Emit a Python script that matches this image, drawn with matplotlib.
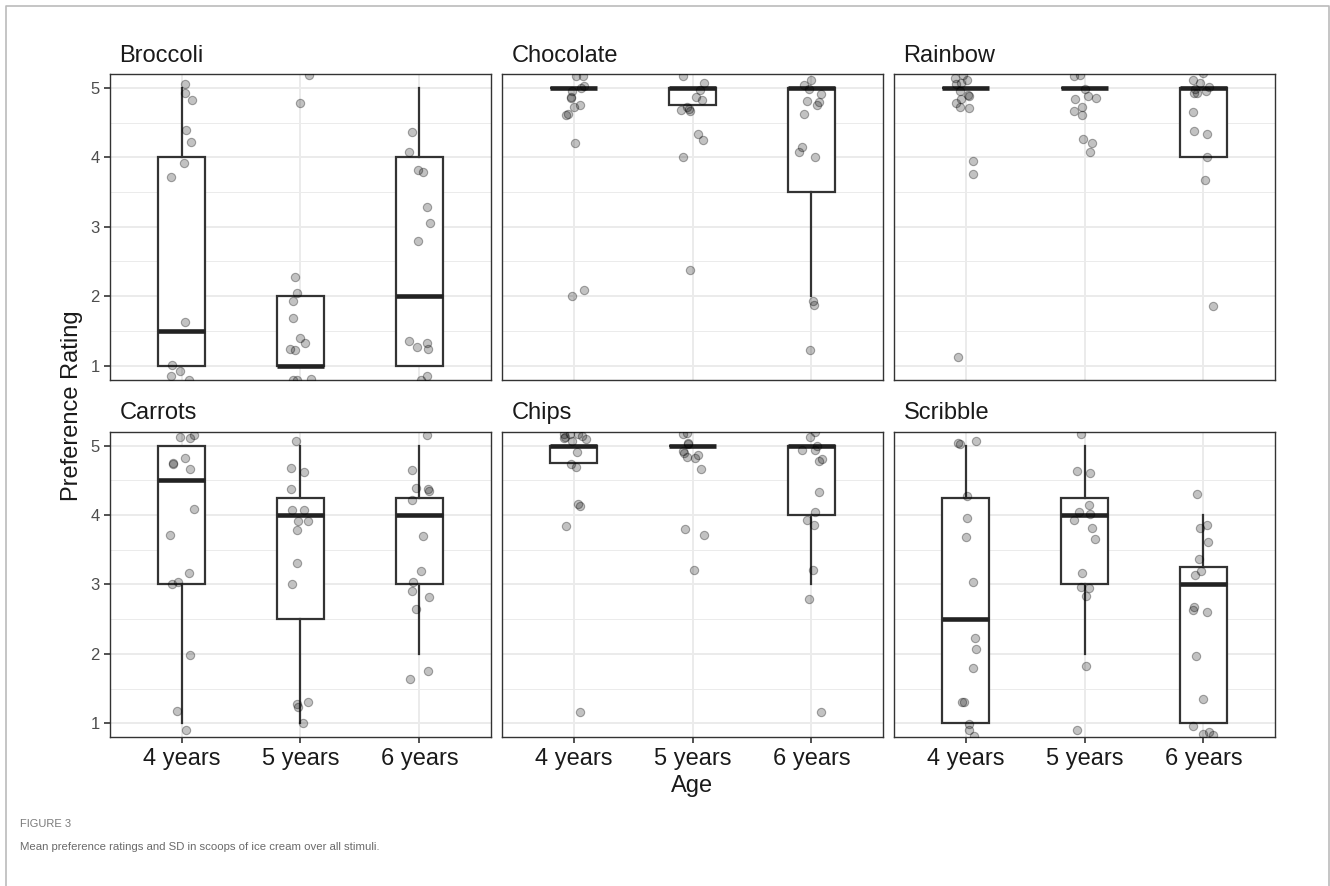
import matplotlib.pyplot as plt
from matplotlib.lines import Line2D

plt.rcParams["font.family"] = ["Liberation Sans", "DejaVu Sans"]

ages = ["4 years", "5 years", "6 years"]
foods = ["Broccoli", "Chocolate", "Rainbow", "Carrots", "Chips", "Scribble"]

# box summary per age: (whisker low, q1, median, q3, whisker high)
broccoli_box = [(1, 1, 1.5, 4, 5), (1, 1, 1, 2, 2), (1, 1, 2, 4, 5)]
chocolate_box = [(5, 5, 5, 5, 5), (4.75, 4.75, 5, 5, 5), (2, 3.5, 5, 5, 5)]
rainbow_box = [(5, 5, 5, 5, 5), (5, 5, 5, 5, 5), (4, 4, 5, 5, 5)]
carrots_box = [(1, 3, 4.5, 5, 5), (1, 2.5, 4, 4.25, 5), (2, 3, 4, 4.25, 5)]
chips_box = [(4.75, 4.75, 5, 5, 5), (5, 5, 5, 5, 5), (3, 4, 5, 5, 5)]
scribble_box = [(1, 1, 2.5, 4.25, 5), (2, 3, 4, 4.25, 5), (1, 1, 3, 3.25, 4)]

# jittered ratings as drawn (y) and their horizontal jitter (dx), per age
broccoli_y = [
    [5.05, 4.92, 4.82, 4.39, 4.22, 3.92, 3.72, 1.63, 1.01, 0.92, 0.85, 0.79],
    [5.18, 4.78, 2.27, 2.05, 1.93, 1.68, 1.40, 1.33, 1.24, 1.22, 0.80, 0.80, 0.81],
    [4.36, 4.07, 3.82, 3.79, 3.29, 3.06, 2.80, 1.36, 1.27, 1.33, 1.24, 0.85, 0.80],
]
broccoli_dx = [
    [0.03, 0.03, 0.09, 0.04, 0.08, 0.02, -0.09, 0.03, -0.08, -0.01, -0.09, 0.06],
    [0.07, 0.0, -0.05, -0.03, -0.06, -0.06, 0.0, 0.04, -0.09, -0.05, -0.06, -0.03, 0.09],
    [-0.06, -0.09, -0.01, 0.03, 0.06, 0.09, -0.01, -0.09, -0.02, 0.06, 0.07, 0.06, 0.01],
]
chocolate_y = [
    [5.17, 5.17, 5.02, 5.0, 4.96, 4.87, 4.85, 4.75, 4.72, 4.63, 4.61, 4.20, 2.09, 2.0],
    [5.17, 5.07, 4.97, 4.87, 4.82, 4.73, 4.68, 4.70, 4.66, 4.34, 4.25, 4.01, 2.38],
    [5.12, 5.04, 4.99, 4.91, 4.80, 4.76, 4.81, 4.62, 4.15, 4.07, 4.0, 1.93, 1.87, 1.23],
]
chocolate_dx = [
    [0.02, 0.08, 0.09, 0.06, -0.01, -0.02, -0.02, 0.05, 0.0, -0.05, -0.06, 0.01, 0.09, -0.01],
    [-0.08, 0.10, 0.06, 0.03, 0.08, -0.05, -0.10, -0.03, -0.02, 0.05, 0.09, -0.08, -0.02],
    [0.0, -0.06, -0.02, 0.08, 0.06, 0.05, -0.04, -0.06, -0.08, -0.10, 0.03, 0.01, 0.02, -0.01],
]
rainbow_y = [
    [5.18, 5.14, 5.12, 5.07, 5.05, 4.95, 4.90, 4.89, 4.84, 4.78, 4.72, 4.71, 3.95, 3.76, 1.12],
    [5.17, 5.19, 4.99, 4.88, 4.85, 4.84, 4.72, 4.67, 4.61, 4.27, 4.20, 4.08],
    [5.21, 5.12, 5.07, 5.01, 4.99, 4.95, 4.92, 4.93, 4.65, 4.38, 4.34, 4.01, 3.68, 1.86],
]
rainbow_dx = [
    [-0.02, -0.09, 0.01, -0.04, -0.08, -0.05, 0.02, 0.03, -0.04, -0.08, -0.05, 0.03, 0.06, 0.06, -0.06],
    [-0.09, -0.04, 0.0, 0.03, 0.10, -0.08, -0.02, -0.09, -0.02, -0.01, 0.06, 0.05],
    [0.0, -0.09, -0.03, 0.05, -0.07, 0.02, -0.08, -0.05, -0.09, -0.08, 0.03, 0.03, 0.01, 0.08],
]
carrots_y = [
    [5.12, 5.11, 5.15, 4.82, 4.75, 4.73, 4.66, 4.08, 3.71, 3.16, 3.03, 3.0, 1.99, 1.18, 0.90],
    [5.06, 4.68, 4.62, 4.38, 4.07, 4.07, 3.92, 3.91, 3.78, 3.31, 3.01, 1.28, 1.23, 1.31, 1.01],
    [5.15, 4.65, 4.39, 4.37, 4.35, 4.21, 3.70, 3.19, 3.04, 2.90, 2.82, 2.65, 1.76, 1.64],
]
carrots_dx = [
    [-0.01, 0.07, 0.10, 0.03, -0.07, -0.07, 0.07, 0.10, -0.10, 0.06, -0.03, -0.08, 0.07, -0.04, 0.04],
    [-0.04, -0.08, 0.03, -0.08, -0.07, 0.03, -0.02, 0.06, -0.03, -0.03, -0.07, -0.03, -0.02, 0.06, 0.02],
    [0.06, -0.06, -0.03, 0.07, 0.08, -0.06, 0.03, 0.01, -0.05, -0.06, 0.08, -0.03, 0.07, -0.08],
]
chips_y = [
    [5.17, 5.13, 5.11, 5.16, 5.16, 5.14, 5.10, 5.07, 4.91, 4.74, 4.69, 4.16, 4.13, 3.84, 1.16],
    [5.16, 5.18, 5.04, 5.02, 4.92, 4.90, 4.83, 4.82, 4.86, 4.66, 3.80, 3.71, 3.21],
    [5.13, 5.19, 4.99, 4.94, 4.94, 4.81, 4.78, 4.33, 4.05, 3.93, 3.86, 3.21, 2.79, 1.16],
]
chips_dx = [
    [-0.08, -0.07, -0.08, -0.03, 0.04, 0.07, 0.10, -0.01, 0.03, -0.02, 0.02, 0.04, 0.05, -0.06, 0.05],
    [-0.08, -0.05, -0.04, -0.04, -0.08, -0.07, -0.05, 0.02, 0.05, 0.07, -0.06, 0.10, 0.01],
    [-0.01, 0.03, 0.05, 0.03, -0.08, 0.09, 0.06, 0.06, 0.03, -0.04, 0.02, 0.01, -0.02, 0.08],
]
scribble_y = [
    [5.04, 5.03, 5.06, 4.27, 3.96, 3.69, 3.03, 2.23, 2.07, 1.79, 1.31, 1.30, 0.99, 0.90, 0.82],
    [5.16, 4.63, 4.61, 4.15, 4.05, 4.02, 3.93, 3.82, 3.66, 3.17, 2.97, 2.95, 2.84, 1.82, 0.90],
    [4.30, 3.85, 3.82, 3.61, 3.37, 3.20, 3.14, 2.68, 2.63, 2.61, 1.97, 1.35, 0.96, 0.85, 0.87, 0.83],
]
scribble_dx = [
    [-0.06, -0.05, 0.09, 0.01, 0.01, 0.0, 0.06, 0.08, 0.09, 0.06, -0.03, -0.01, 0.03, 0.03, 0.07],
    [-0.03, -0.06, 0.05, 0.04, -0.05, 0.05, -0.09, 0.06, 0.09, -0.02, -0.03, 0.04, 0.01, 0.01, -0.06],
    [-0.05, 0.03, -0.03, 0.04, -0.04, -0.02, -0.07, -0.08, -0.09, 0.03, -0.06, 0.0, -0.09, 0.0, 0.05, 0.08],
]

boxes = [broccoli_box, chocolate_box, rainbow_box, carrots_box, chips_box, scribble_box]
points_y = [broccoli_y, chocolate_y, rainbow_y, carrots_y, chips_y, scribble_y]
points_dx = [broccoli_dx, chocolate_dx, rainbow_dx, carrots_dx, chips_dx, scribble_dx]

W, H = 1330, 886
fig = plt.figure(figsize=(W / 100, H / 100), dpi=100)

col_left = [110.3, 502.3, 894.3]
col_w = 380.4
row_top = [74.0, 431.7]
row_h = 305.5

BOX_COL = "#333333"

for i, food in enumerate(foods):
    r, c = divmod(i, 3)
    ax = fig.add_axes([col_left[c] / W, 1 - (row_top[r] + row_h) / H, col_w / W, row_h / H])

    stats = [
        {"whislo": lo, "q1": q1, "med": med, "q3": q3, "whishi": hi, "fliers": []}
        for lo, q1, med, q3, hi in boxes[i]
    ]
    ax.bxp(stats, positions=[1, 2, 3], widths=0.4, patch_artist=True, showcaps=False,
           showfliers=False,
           boxprops=dict(facecolor="white", edgecolor=BOX_COL, linewidth=1.6),
           whiskerprops=dict(color=BOX_COL, linewidth=1.6),
           medianprops=dict(color="#222222", linewidth=3.3, solid_capstyle="butt"),
           zorder=2)

    for k in range(3):
        xs = [k + 1 + d for d in points_dx[i][k]]
        ax.scatter(xs, points_y[i][k], s=36, facecolor=(0, 0, 0, 0.24),
                   edgecolor=(0, 0, 0, 0.32), linewidth=0.8, zorder=3)

    ax.set_xlim(0.4, 3.6)
    ax.set_ylim(0.8, 5.2)
    ax.set_xticks([1, 2, 3])
    ax.set_yticks([1, 2, 3, 4, 5])
    ax.set_yticks([1.5, 2.5, 3.5, 4.5], minor=True)
    ax.grid(True, which="major", color="#EBEBEB", linewidth=1.4, zorder=0)
    ax.grid(True, which="minor", axis="y", color="#EBEBEB", linewidth=0.7, zorder=0)
    ax.set_axisbelow(True)
    for sp in ax.spines.values():
        sp.set_color("#333333")
        sp.set_linewidth(1.0)

    ax.tick_params(axis="both", which="minor", length=0)
    ax.tick_params(axis="y", which="major", length=4, width=1.2, color="#333333",
                   labelsize=12, labelcolor="#4D4D4D", pad=3.5)
    ax.tick_params(axis="x", which="major", length=4, width=1.2, color="#333333",
                   labelsize=17, labelcolor="#1A1A1A", pad=3.5)
    if r == 1:
        ax.set_xticklabels(ages)
    else:
        ax.tick_params(axis="x", which="major", length=0, labelbottom=False)
    if c != 0:
        ax.tick_params(axis="y", which="major", length=0, labelleft=False)

    ax.text(0.024, 1.04, food, transform=ax.transAxes, fontsize=17,
            ha="left", va="baseline", color="#1A1A1A")

fig.text(72 / W, 1 - 406 / H, "Preference Rating", rotation=90, fontsize=17,
         ha="center", va="center", color="#1A1A1A")
fig.text(692 / W, 1 - 786 / H, "Age", fontsize=17, ha="center", va="center",
         color="#1A1A1A")

fig.text(20 / W, 1 - 824 / H, "FIGURE 3", fontsize=8, ha="left", va="center",
         color="#7A7A7A")
fig.text(20 / W, 1 - 847 / H, "Mean preference ratings and SD in scoops of ice cream over all stimuli.",
         fontsize=8.2, ha="left", va="center", color="#6A6A6A")

# thin frame around the figure, open at the bottom
fx = [6 / W, 6 / W, 1329 / W, 1329 / W]
fy = [0, 1 - 6 / H, 1 - 6 / H, 0]
fig.add_artist(Line2D(fx, fy, transform=fig.transFigure, color="#BBBBBB", linewidth=1.2))

fig.savefig("out.png", dpi=100)
